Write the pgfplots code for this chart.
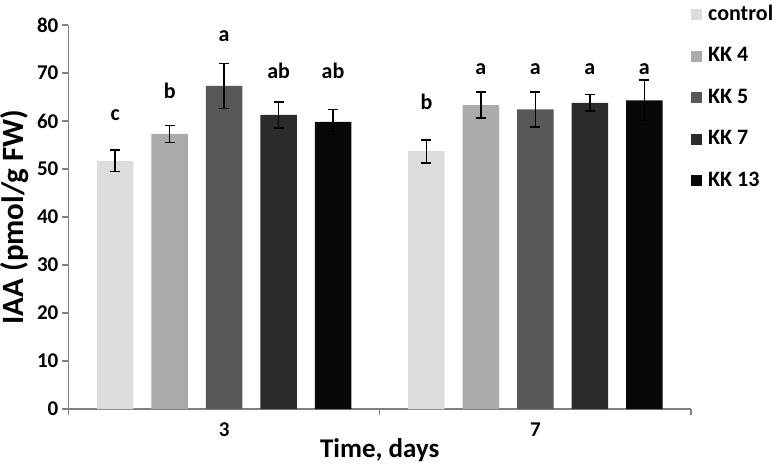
\documentclass[border=0pt]{standalone}
\usepackage{fontspec}
\setmainfont{Carlito}
\usepackage{pgfplots}
\pgfplotsset{compat=1.18}
\definecolor{cA}{HTML}{DCDCDC}
\definecolor{cB}{HTML}{ABABAB}
\definecolor{cC}{HTML}{585858}
\definecolor{cD}{HTML}{2B2B2B}
\definecolor{cE}{HTML}{080808}
\definecolor{axgray}{HTML}{808080}
\begin{document}
\begin{tikzpicture}
\useasboundingbox (0pt,0pt) rectangle (774pt,466pt);
\begin{axis}[
  at={(68.5pt,57pt)}, anchor=south west,
  scale only axis, width=622.5pt, height=384pt,
  xmin=0, xmax=2, ymin=0, ymax=80,
  axis lines*=left,
  axis line style={draw=axgray, line width=1.1pt},
  tick style={draw=axgray, line width=1.1pt},
  tick align=outside,
  major tick length=6pt,
  ytick={0,10,...,80},
  yticklabels={\textbf{0},\textbf{10},\textbf{20},\textbf{30},\textbf{40},\textbf{50},\textbf{60},\textbf{70},\textbf{80}},
  xtick={0,1,2}, xticklabels={},
  extra x ticks={0.5,1.5}, extra x tick labels={\textbf{3},\textbf{7}},
  extra x tick style={major tick length=0pt, tick style={draw=none},
     xticklabel style={anchor=north, inner sep=0pt, yshift=-14pt}},
  /pgf/number format/assume math mode=true,
  yticklabel style={font=\fontsize{21}{24}\selectfont\bfseries, anchor=east, inner sep=0pt, xshift=-4pt},
  xticklabel style={font=\fontsize{21}{24}\selectfont\bfseries},
  xlabel={Time, days},
  ylabel={IAA (pmol/g FW)},
  xlabel style={font=\fontsize{27}{30}\selectfont\bfseries, at={(axis description cs:0.5,-0.127)}, anchor=base, inner sep=0pt},
  ylabel style={font=\fontsize{31}{34}\selectfont\bfseries, at={(axis description cs:-0.087,0.5)}, anchor=center, inner sep=0pt},
  legend image code/.code={\fill[#1] (0pt,-5.5pt) rectangle (11pt,5.5pt);},
  legend style={draw=none, fill=none, at={(1.0,1.055)}, anchor=north west,
     font=\fontsize{22}{26}\selectfont\bfseries, inner sep=0pt,
     row sep=20.5pt,
     /tikz/every odd column/.append style={column sep=6pt},
     nodes={inner sep=0pt, text height=16pt, text depth=5pt}},
  legend cell align=left,
  clip=false,
  every axis plot/.append style={ybar, bar width=0.117, bar shift=0pt, draw=none,
    error bars/y dir=both, error bars/y explicit,
    error bars/error bar style={line width=1.6pt, draw=black},
    error bars/error mark options={rotate=90, line width=1.6pt, mark size=5pt, draw=black}},
]
\addplot[fill=cA] coordinates {(0.150,51.7) +- (0,2.2) (1.150,53.7) +- (0,2.4)};
\addplot[fill=cB] coordinates {(0.325,57.3) +- (0,1.8) (1.325,63.3) +- (0,2.7)};
\addplot[fill=cC] coordinates {(0.500,67.3) +- (0,4.7) (1.500,62.4) +- (0,3.7)};
\addplot[fill=cD] coordinates {(0.675,61.3) +- (0,2.7) (1.675,63.8) +- (0,1.7)};
\addplot[fill=cE] coordinates {(0.850,59.8) +- (0,2.6) (1.850,64.3) +- (0,4.2)};
\legend{control,KK 4,KK 5,KK 7,KK 13}
\begin{scope}[every node/.style={font=\fontsize{22}{26}\selectfont\bfseries, anchor=base, inner sep=0pt}]
\node at (axis cs:0.150,60.2) {c};
\node at (axis cs:0.325,64.7) {b};
\node at (axis cs:0.500,76.5) {a};
\node at (axis cs:0.675,68.9) {ab};
\node at (axis cs:0.850,68.9) {ab};
\node at (axis cs:1.150,62.3) {b};
\node at (axis cs:1.325,69.6) {a};
\node at (axis cs:1.500,69.6) {a};
\node at (axis cs:1.675,69.6) {a};
\node at (axis cs:1.850,69.6) {a};
\end{scope}
\end{axis}
\end{tikzpicture}
\end{document}
